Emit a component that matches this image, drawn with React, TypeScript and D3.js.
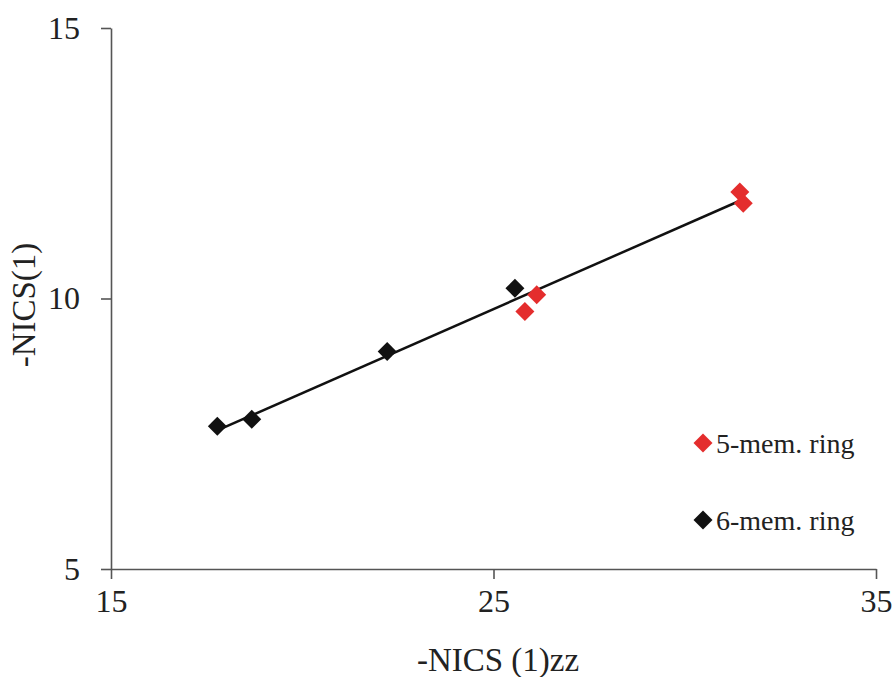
import React, { useEffect, useRef } from 'react';
import * as d3 from 'd3';

// -NICS(1)zz vs -NICS(1)
const fiveX = [26.13, 25.82, 31.44, 31.53];
const fiveY = [10.07, 9.76, 11.97, 11.76];
const sixX = [17.78, 18.68, 22.22, 25.56];
const sixY = [7.64, 7.77, 9.02, 10.19];

const xTicks = [15, 25, 35];
const yTicks = [5, 10, 15];
const legendLabels = ['5-mem. ring', '6-mem. ring'];

const RED = '#e42d2d';
const FONT = 'Liberation Serif, Times New Roman, DejaVu Serif, serif';

export default function App() {
    const svgRef = useRef<SVGSVGElement>(null);

    useEffect(() => {
        const svg = d3.select(svgRef.current);
        svg.selectAll('*').remove();
        svg.attr('font-family', FONT);

        const x = d3.scaleLinear().domain([15, 35]).range([111, 876]);
        const y = d3.scaleLinear().domain([5, 15]).range([569, 28]);

        // axes
        const xAxis = svg
            .append('g')
            .attr('transform', `translate(0, ${y(5)})`)
            .call(d3.axisBottom(x).tickValues(xTicks).tickSize(10).tickPadding(22).tickSizeOuter(0));
        const yAxis = svg
            .append('g')
            .attr('transform', `translate(${x(15)}, 0)`)
            .call(d3.axisLeft(y).tickValues(yTicks).tickSize(10).tickPadding(21).tickSizeOuter(0));

        [xAxis, yAxis].forEach((g) => {
            g.attr('font-family', FONT).attr('font-size', 32);
            g.select('.domain').attr('stroke', '#555').attr('stroke-width', 1.6);
            g.selectAll('.tick line').attr('stroke', '#555').attr('stroke-width', 1.6);
            g.selectAll('.tick text').attr('fill', '#222');
        });
        xAxis.selectAll('.tick text').attr('dy', '0.35em');

        // trendline (least squares over all points)
        const allX = [...fiveX, ...sixX];
        const allY = [...fiveY, ...sixY];
        const mx = d3.mean(allX)!;
        const my = d3.mean(allY)!;
        const slope =
            d3.sum(allX, (v, i) => (v - mx) * (allY[i] - my)) / d3.sum(allX, (v) => (v - mx) * (v - mx));
        const icpt = my - slope * mx;
        const ext = d3.extent(allX) as [number, number];
        svg.append('path')
            .datum(ext)
            .attr('fill', 'none')
            .attr('stroke', '#111')
            .attr('stroke-width', 2.5)
            .attr('d', d3.line<number>().x((d) => x(d)).y((d) => y(slope * d + icpt)));

        const diamond = d3.symbol().type(d3.symbolSquare).size(180);

        const drawSeries = (xs: number[], ys: number[], color: string) => {
            svg.append('g')
                .selectAll('path')
                .data(xs)
                .enter()
                .append('path')
                .attr('d', diamond)
                .attr('fill', color)
                .attr('transform', (d, i) => `translate(${x(d)}, ${y(ys[i])}) rotate(45)`);
        };
        drawSeries(sixX, sixY, '#111');
        drawSeries(fiveX, fiveY, RED);

        // legend
        const legend = svg.append('g').attr('transform', 'translate(703, 443)');
        legendLabels.forEach((label, i) => {
            const row = legend.append('g').attr('transform', `translate(0, ${i * 77})`);
            row.append('path')
                .attr('d', diamond)
                .attr('fill', i === 0 ? RED : '#111')
                .attr('transform', 'rotate(45)');
            row.append('text')
                .attr('x', 13)
                .attr('y', 10)
                .attr('fill', '#222')
                .attr('font-size', 28)
                .text(label);
        });

        // titles
        svg.append('text')
            .attr('x', 498)
            .attr('y', 671)
            .attr('text-anchor', 'middle')
            .attr('fill', '#222')
            .attr('font-size', 33)
            .text('-NICS (1)zz');
        svg.append('text')
            .attr('transform', 'translate(35, 305) rotate(-90)')
            .attr('text-anchor', 'middle')
            .attr('fill', '#222')
            .attr('font-size', 33)
            .text('-NICS(1)');
    }, []);

    return (
        <svg
            ref={svgRef}
            width={895}
            height={677}
            style={{ position: 'absolute', left: 0, top: 0, background: '#fff' }}
        />
    );
}
